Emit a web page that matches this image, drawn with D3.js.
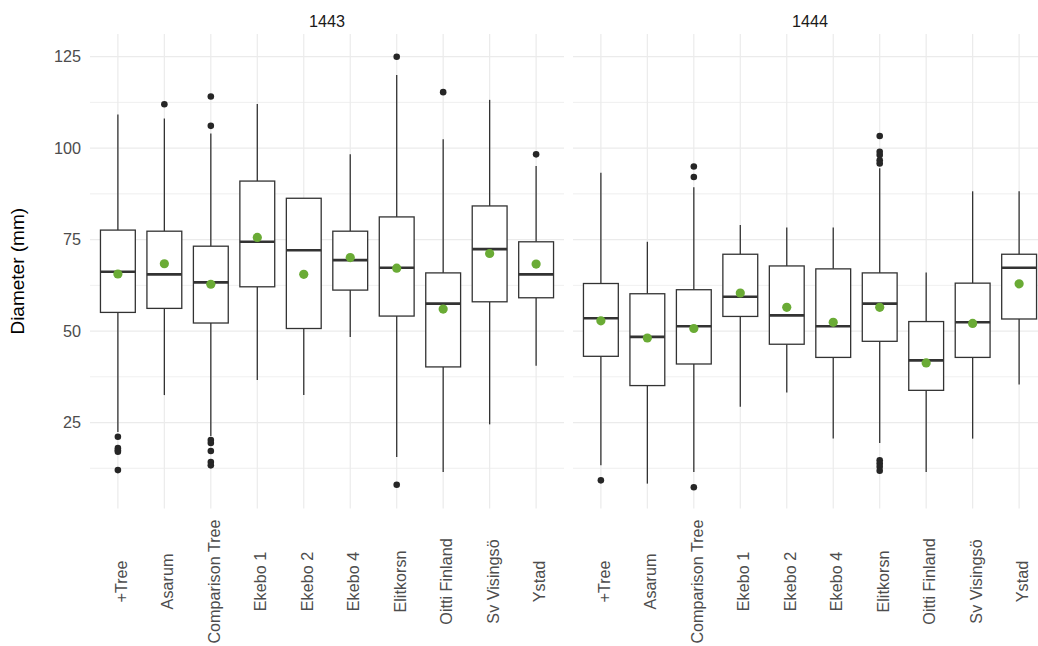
<!DOCTYPE html>
<html>
<head>
<meta charset="utf-8">
<script src="https://cdn.jsdelivr.net/npm/d3@7"></script>
<style>
  body { margin: 0; background: #fff; }
  svg  { display: block; font-family: "Liberation Sans", Arial, sans-serif; }
</style>
</head>
<body>
<svg id="chart" width="1038" height="646"></svg>
<script>
// Box plot stats, one array per statistic and year.
const years      = [ '1443', '1444' ];
const categories = [ '+Tree', 'Asarum', 'Comparison Tree', 'Ekebo 1', 'Ekebo 2',
                     'Ekebo 4', 'Elitkorsn', 'Oitti Finland', 'Sv Visingsö', 'Ystad' ];
const yTicks     = [ 25, 50, 75, 100, 125 ];
const yMinor     = [ 12.5, 37.5, 62.5, 87.5, 112.5 ];

const low1443     = [ 22.4, 32.5, 21.3, 36.6, 32.5, 48.4, 15.6, 11.5, 24.5, 40.5 ];
const q1_1443     = [ 55.1, 56.2, 52.2, 62.1, 50.7, 61.2, 54.1, 40.2, 58.0, 59.1 ];
const median1443  = [ 66.2, 65.5, 63.3, 74.4, 72.1, 69.4, 67.3, 57.5, 72.4, 65.5 ];
const q3_1443     = [ 77.6, 77.3, 73.2, 91.0, 86.3, 77.3, 81.2, 65.9, 84.2, 74.4 ];
const high1443    = [ 109.2, 108.1, 104.0, 112.1, 86.3, 98.3, 120.0, 102.4, 113.2, 95.1 ];
const mean1443    = [ 65.6, 68.4, 62.8, 75.6, 65.5, 70.1, 67.2, 56.0, 71.2, 68.3 ];
const outlier1443 = [ [ 21.1, 18.0, 17.4, 17.0, 12.0 ], [ 112.0 ],
                      [ 114.1, 106.1, 20.2, 19.4, 17.2, 14.2, 13.3 ], [], [], [],
                      [ 125.0, 8.0 ], [ 115.3 ], [], [ 98.3 ] ];

const low1444     = [ 13.3, 8.3, 11.5, 29.3, 33.2, 20.6, 19.4, 11.5, 20.6, 35.4 ];
const q1_1444     = [ 43.1, 35.1, 41.0, 54.0, 46.4, 42.8, 47.2, 33.8, 42.8, 53.3 ];
const median1444  = [ 53.5, 48.4, 51.3, 59.4, 54.3, 51.3, 57.5, 42.0, 52.4, 67.3 ];
const q3_1444     = [ 63.0, 60.2, 61.3, 71.0, 67.8, 67.0, 65.9, 52.6, 63.1, 71.0 ];
const high1444    = [ 93.3, 74.4, 89.3, 79.0, 78.3, 78.3, 94.5, 66.0, 88.2, 88.2 ];
const mean1444    = [ 52.8, 48.1, 50.7, 60.4, 56.5, 52.4, 56.5, 41.3, 52.1, 62.9 ];
const outlier1444 = [ [ 9.2 ], [], [ 95.0, 92.1, 7.3 ], [], [], [],
                      [ 103.3, 99.0, 98.1, 96.7, 95.8, 14.7, 13.8, 12.9, 11.8 ], [], [], [] ];

// Builds the per-year rows from the arrays above.
const stats = {
  '1443': categories.map( ( c, i ) => ( { cat: c, low: low1443[i], q1: q1_1443[i], med: median1443[i],
                                          q3: q3_1443[i], high: high1443[i], mean: mean1443[i], out: outlier1443[i] } ) ),
  '1444': categories.map( ( c, i ) => ( { cat: c, low: low1444[i], q1: q1_1444[i], med: median1444[i],
                                          q3: q3_1444[i], high: high1444[i], mean: mean1444[i], out: outlier1444[i] } ) )
};

// Layout.
const plotTop = 34, plotBottom = 508.5;
const panels = [ { year: years[0], x0: 90,  x1: 564  },
                 { year: years[1], x0: 573, x1: 1047 } ];
const ink   = '#333333';
const green = '#6aab35';
const grid  = '#ebebeb';
const fontSize = 16.2;

const svg = d3.select( '#chart' );
const y = d3.scaleLinear( ).domain( [ 1.5, 131.2 ] ).range( [ plotBottom, plotTop ] );

panels.forEach( p => {
  const x = d3.scalePoint( ).domain( categories ).range( [ p.x0, p.x1 ] ).padding( 0.6 );
  const boxW = x.step( ) * 0.75;
  const g = svg.append( 'g' );

  // Grid.
  g.selectAll( '.minor' ).data( yMinor ).join( 'line' )
    .attr( 'x1', p.x0 ).attr( 'x2', p.x1 ).attr( 'y1', d => y( d ) ).attr( 'y2', d => y( d ) )
    .attr( 'stroke', grid ).attr( 'stroke-width', 0.8 );
  g.selectAll( '.major' ).data( yTicks ).join( 'line' )
    .attr( 'x1', p.x0 ).attr( 'x2', p.x1 ).attr( 'y1', d => y( d ) ).attr( 'y2', d => y( d ) )
    .attr( 'stroke', grid ).attr( 'stroke-width', 1.2 );
  g.selectAll( '.vgrid' ).data( categories ).join( 'line' )
    .attr( 'x1', d => x( d ) ).attr( 'x2', d => x( d ) ).attr( 'y1', plotTop ).attr( 'y2', plotBottom )
    .attr( 'stroke', grid ).attr( 'stroke-width', 1.2 );

  // Strip label.
  svg.append( 'text' )
    .attr( 'x', ( p.x0 + p.x1 ) / 2 ).attr( 'y', 27 )
    .attr( 'text-anchor', 'middle' ).attr( 'fill', '#1a1a1a' ).attr( 'font-size', fontSize )
    .text( p.year );

  const rows = stats[ p.year ];
  const box = g.selectAll( '.box' ).data( rows ).join( 'g' );

  // Whiskers.
  box.append( 'line' )
    .attr( 'x1', d => x( d.cat ) ).attr( 'x2', d => x( d.cat ) )
    .attr( 'y1', d => y( d.q3 ) ).attr( 'y2', d => y( d.high ) )
    .attr( 'stroke', ink ).attr( 'stroke-width', 1.3 );
  box.append( 'line' )
    .attr( 'x1', d => x( d.cat ) ).attr( 'x2', d => x( d.cat ) )
    .attr( 'y1', d => y( d.q1 ) ).attr( 'y2', d => y( d.low ) )
    .attr( 'stroke', ink ).attr( 'stroke-width', 1.3 );
  // Box and median.
  box.append( 'rect' )
    .attr( 'x', d => x( d.cat ) - boxW / 2 ).attr( 'width', boxW )
    .attr( 'y', d => y( d.q3 ) ).attr( 'height', d => y( d.q1 ) - y( d.q3 ) )
    .attr( 'fill', '#fff' ).attr( 'stroke', ink ).attr( 'stroke-width', 1.3 );
  box.append( 'line' )
    .attr( 'x1', d => x( d.cat ) - boxW / 2 ).attr( 'x2', d => x( d.cat ) + boxW / 2 )
    .attr( 'y1', d => y( d.med ) ).attr( 'y2', d => y( d.med ) )
    .attr( 'stroke', ink ).attr( 'stroke-width', 2.6 );
  // Outliers.
  box.selectAll( 'circle.out' ).data( d => d.out.map( v => ( { cat: d.cat, v } ) ) ).join( 'circle' )
    .attr( 'cx', d => x( d.cat ) ).attr( 'cy', d => y( d.v ) ).attr( 'r', 3.3 ).attr( 'fill', '#262626' );
  // Mean.
  box.append( 'circle' )
    .attr( 'cx', d => x( d.cat ) ).attr( 'cy', d => y( d.mean ) ).attr( 'r', 4.6 ).attr( 'fill', green );

  // Category axis, labels turned upright.
  const xAxis = svg.append( 'g' ).attr( 'transform', `translate(0,${plotBottom})` )
    .call( d3.axisBottom( x ).tickSize( 0 ) );
  xAxis.select( '.domain' ).remove( );
  xAxis.selectAll( 'text' )
    .attr( 'x', 0 ).attr( 'y', 0 ).attr( 'dy', 0 )
    .attr( 'transform', `translate(8.5,${581.5 - plotBottom}) rotate(-90)` )
    .attr( 'text-anchor', 'middle' )
    .attr( 'fill', '#4d4d4d' ).attr( 'font-size', fontSize )
    .attr( 'font-family', '"Liberation Sans", Arial, sans-serif' );
} );

// Y axis.
const yAxis = svg.append( 'g' ).attr( 'transform', 'translate(90,0)' )
  .call( d3.axisLeft( y ).tickValues( yTicks ).tickSize( 0 ).tickPadding( 9 ) );
yAxis.select( '.domain' ).remove( );
yAxis.selectAll( 'text' )
  .attr( 'fill', '#4d4d4d' ).attr( 'font-size', fontSize )
  .attr( 'font-family', '"Liberation Sans", Arial, sans-serif' );

svg.append( 'text' )
  .attr( 'transform', `translate(24,${( plotTop + plotBottom ) / 2}) rotate(-90)` )
  .attr( 'text-anchor', 'middle' ).attr( 'font-size', 19 ).attr( 'fill', '#000' )
  .text( 'Diameter (mm)' );
</script>
</body>
</html>
